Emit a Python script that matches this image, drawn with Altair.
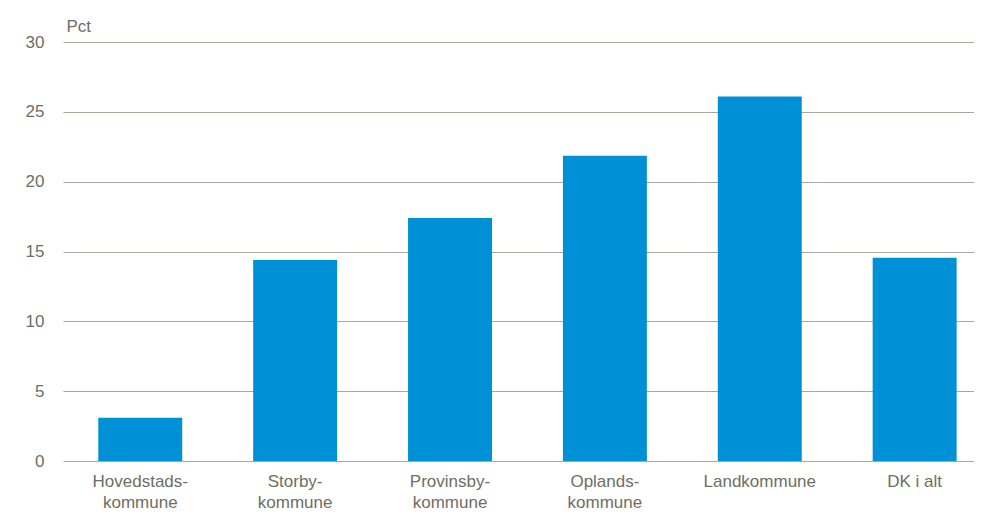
import altair as alt
import pandas as pd

categories = ["Hovedstads-\nkommune", "Storby-\nkommune", "Provinsby-\nkommune",
              "Oplands-\nkommune", "Landkommune", "DK i alt"]
values = [3.1, 14.4, 17.4, 21.85, 26.1, 14.55]
y_ticks = [0, 5, 10, 15, 20, 25, 30]

df = pd.DataFrame({"kategori": categories, "pct": values})

TEXT = "#6E6E64"
GRID = "#A9A99B"
BAR = "#0090D5"
FONT = "Liberation Sans"

chart = alt.Chart(df).mark_bar(color=BAR).encode(
    x=alt.X("kategori:N", sort=categories, title=None,
            scale=alt.Scale(paddingInner=0.458, paddingOuter=0.17, align=0.67),
            axis=alt.Axis(labelAngle=0, labelExpr="split(datum.label, '\\n')",
                          labelFontSize=17, labelColor=TEXT, labelFont=FONT,
                          labelPadding=12, labelLineHeight=21, ticks=False,
                          domain=False, grid=False, labelBaseline="top")),
    y=alt.Y("pct:Q", scale=alt.Scale(domain=[0, 30], nice=False),
            axis=alt.Axis(values=y_ticks, title="Pct", titleAngle=0, titleAlign="left",
                          titleBaseline="alphabetic", titleX=3, titleY=-11,
                          titleFontSize=17, titleFontWeight="normal", titleColor=TEXT,
                          titleFont=FONT,
                          labelFontSize=17, labelColor=TEXT, labelFont=FONT,
                          labelPadding=19, ticks=False, domain=False,
                          grid=True, gridColor=GRID, gridWidth=1, gridOpacity=1)),
).properties(
    width=911, height=419,
    background="white",
    autosize=alt.AutoSizeParams(type="none"),
    padding={"left": 55, "top": 34, "right": 0, "bottom": 50},
).configure_view(stroke=None)

chart.save("out.html", embed_options={"renderer": "svg", "actions": False})
